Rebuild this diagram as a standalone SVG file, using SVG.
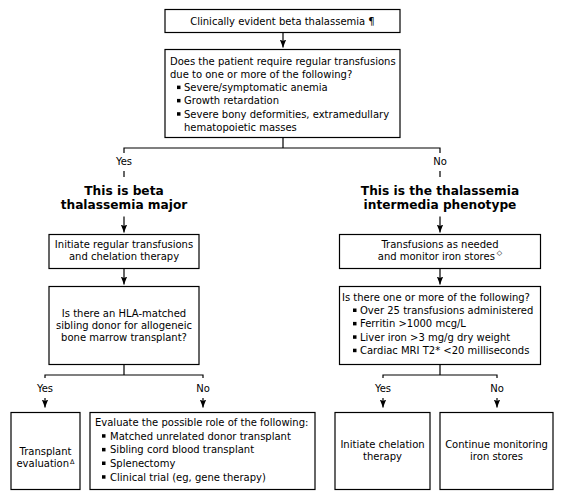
<svg xmlns="http://www.w3.org/2000/svg" width="564" height="502" viewBox="0 0 564 502">
<style>
.bx{fill:#fff;stroke:#000;stroke-width:1.2}
.ln{fill:none;stroke:#000;stroke-width:1.2}
.ar{fill:none;stroke:#000;stroke-width:1.2;marker-end:url(#ah)}
text{font-family:"DejaVu Sans",Verdana,sans-serif;font-size:10px;fill:#000}
.c{text-anchor:middle}
.h{font-weight:bold;font-size:12.2px;text-anchor:middle}
.b{fill:#000}
.sup{font-size:7px}
.sup2{font-size:6.5px}
</style>
<defs>
<marker id="ah" viewBox="0 0 10 8" refX="10" refY="4" markerWidth="8" markerHeight="7" orient="auto" markerUnits="userSpaceOnUse">
<path d="M0,0 L10,4 L0,8 L2,4 z" fill="#000"/>
</marker>
</defs>
<rect width="564" height="502" fill="#fff"/>
<g id="connectors">
<path class="ar" d="M283,32.5 V47.5"/>
<path class="ln" d="M283,137.5 V148 M124,153 V148 H440 V153"/>
<path class="ln" d="M124,171 V177 M440,171 V177"/>
<path class="ar" d="M124,216.5 V232.5"/>
<path class="ar" d="M440,216.5 V232.5"/>
<path class="ar" d="M124,268.5 V284.5"/>
<path class="ar" d="M440,268.5 V284.5"/>
<path class="ln" d="M124,364.5 V375 M45,378 V375 H203 V378"/>
<path class="ln" d="M440,364.5 V375 M383,378 V375 H497 V378"/>
<path class="ar" d="M45,398 V407.5"/>
<path class="ar" d="M203,398 V407.5"/>
<path class="ar" d="M383,398 V407.5"/>
<path class="ar" d="M497,398 V407.5"/>
<text class="c" x="124" y="165">Yes</text>
<text class="c" x="440" y="165">No</text>
<text class="c" x="45" y="392">Yes</text>
<text class="c" x="203" y="392">No</text>
<text class="c" x="383" y="392">Yes</text>
<text class="c" x="497" y="392">No</text>
</g>
<g id="start">
<rect class="bx" x="165" y="9.5" width="235" height="23"/>
<text class="c" x="282.5" y="25">Clinically evident beta thalassemia ¶</text>
</g>
<g id="question1">
<rect class="bx" x="165" y="49.5" width="235" height="88"/>
<text x="170" y="64.5">Does the patient require regular transfusions</text>
<text x="170" y="77.8">due to one or more of the following?</text>
<rect class="b" x="177" y="85.6" width="3.5" height="3.5"/>
<text x="184" y="91.1">Severe/symptomatic anemia</text>
<rect class="b" x="177" y="98.9" width="3.5" height="3.5"/>
<text x="184" y="104.4">Growth retardation</text>
<rect class="b" x="177" y="112.2" width="3.5" height="3.5"/>
<text x="184" y="117.7">Severe bony deformities, extramedullary</text>
<text x="184" y="131">hematopoietic masses</text>
</g>
<g id="heading-major">
<text class="h" x="124" y="194.5">This is beta</text>
<text class="h" x="124" y="208.5">thalassemia major</text>
</g>
<g id="heading-intermedia">
<text class="h" x="440" y="194.5">This is the thalassemia</text>
<text class="h" x="440" y="208.5">intermedia phenotype</text>
</g>
<g id="initiate-transfusions">
<rect class="bx" x="49" y="234.5" width="150" height="34"/>
<text class="c" x="124" y="247.5">Initiate regular transfusions</text>
<text class="c" x="124" y="259.5">and chelation therapy</text>
</g>
<g id="transfusions-as-needed">
<rect class="bx" x="339.5" y="234.5" width="201" height="34"/>
<text class="c" x="440" y="247.5">Transfusions as needed</text>
<text class="c" x="440" y="259.5">and monitor iron stores<tspan class="sup" dx="2" dy="-5">◇</tspan></text>
</g>
<g id="hla-question">
<rect class="bx" x="49" y="286.5" width="150" height="78"/>
<text class="c" x="124" y="316.5">Is there an HLA-matched</text>
<text class="c" x="124" y="328.5">sibling donor for allogeneic</text>
<text class="c" x="124" y="340.5">bone marrow transplant?</text>
</g>
<g id="iron-question">
<rect class="bx" x="339.5" y="286.5" width="201" height="78"/>
<text x="342" y="300.7">Is there one or more of the following?</text>
<rect class="b" x="353" y="308.5" width="3.5" height="3.5"/>
<text x="360" y="314">Over 25 transfusions administered</text>
<rect class="b" x="353" y="321.9" width="3.5" height="3.5"/>
<text x="360" y="327.4">Ferritin &gt;1000 mcg/L</text>
<rect class="b" x="353" y="335.3" width="3.5" height="3.5"/>
<text x="360" y="340.8">Liver iron &gt;3 mg/g dry weight</text>
<rect class="b" x="353" y="348.7" width="3.5" height="3.5"/>
<text x="360" y="354.2">Cardiac MRI T2* &lt;20 milliseconds</text>
</g>
<g id="transplant-evaluation">
<rect class="bx" x="11" y="412.5" width="69" height="77"/>
<text class="c" x="45.5" y="454.5">Transplant</text>
<text class="c" x="45.5" y="467">evaluation<tspan class="sup2" dx="1" dy="-3.5">Δ</tspan></text>
</g>
<g id="evaluate-options">
<rect class="bx" x="90" y="412.5" width="225" height="77"/>
<text x="95" y="426">Evaluate the possible role of the following:</text>
<rect class="b" x="102" y="434.2" width="3.5" height="3.5"/>
<text x="110" y="439.7">Matched unrelated donor transplant</text>
<rect class="b" x="102" y="447.9" width="3.5" height="3.5"/>
<text x="110" y="453.4">Sibling cord blood transplant</text>
<rect class="b" x="102" y="461.5" width="3.5" height="3.5"/>
<text x="110" y="467">Splenectomy</text>
<rect class="b" x="102" y="475.2" width="3.5" height="3.5"/>
<text x="110" y="480.7">Clinical trial (eg, gene therapy)</text>
</g>
<g id="initiate-chelation">
<rect class="bx" x="335" y="412.5" width="95" height="77"/>
<text class="c" x="382.5" y="447.5">Initiate chelation</text>
<text class="c" x="382.5" y="459.5">therapy</text>
</g>
<g id="continue-monitoring">
<rect class="bx" x="440" y="412.5" width="113" height="77"/>
<text class="c" x="496.5" y="447.5">Continue monitoring</text>
<text class="c" x="496.5" y="459.5">iron stores</text>
</g>
</svg>
